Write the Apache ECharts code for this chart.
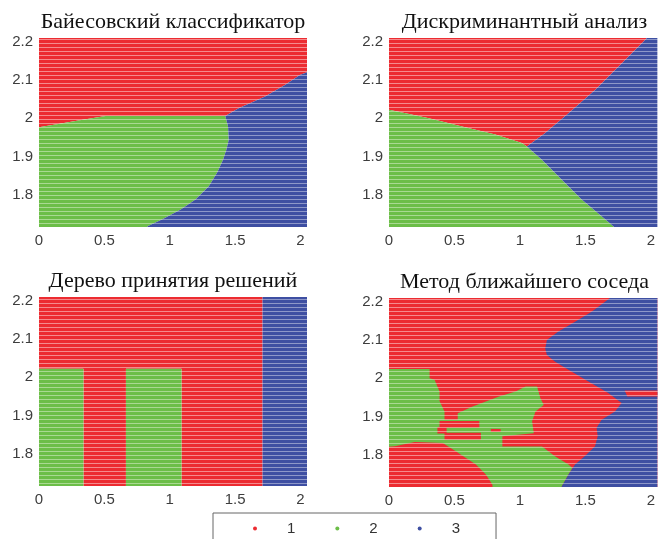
<!DOCTYPE html>
<html>
<head>
<meta charset="utf-8">
<script src="https://cdn.jsdelivr.net/npm/echarts@6/dist/echarts.min.js"></script>
<style>
  html, body { margin: 0; padding: 0; background: #fff; }
  #chart { width: 658px; height: 539px; }
</style>
</head>
<body>
<div id="chart"></div>
<script>
// подписи и оси
var plotTitles = ['Байесовский классификатор', 'Дискриминантный анализ', 'Дерево принятия решений', 'Метод ближайшего соседа'];
var classNames = ['1', '2', '3'];
var xTicks = [0, 0.5, 1, 1.5, 2];
var yTicks = [1.8, 1.9, 2, 2.1, 2.2];
var xRange = [0, 2.05];
var yRange = [1.715, 2.21];

// области классов, вершины [x, y]
var bayesClass1 = [[[-0.1, 2.3], [2.2, 2.3], [2.2, 2.14], [1.995, 2.113], [1.881, 2.087], [1.729, 2.057], [1.527, 2.026], [1.425, 2.006], [0.509, 2.006], [0.30, 1.994], [0.147, 1.985], [0.033, 1.978], [-0.1, 1.970]]];
var bayesClass2 = [[[-0.1, 1.970], [0.033, 1.978], [0.147, 1.985], [0.30, 1.994], [0.509, 2.006], [1.425, 2.006], [1.446, 1.978], [1.451, 1.943], [1.433, 1.917], [1.408, 1.891], [1.362, 1.857], [1.299, 1.822], [1.197, 1.787], [1.084, 1.761], [0.944, 1.735], [0.83, 1.717], [0.80, 1.65], [-0.1, 1.65]]];
var bayesClass3 = [[[1.425, 2.006], [1.527, 2.026], [1.729, 2.057], [1.881, 2.087], [1.995, 2.113], [2.2, 2.14], [2.2, 1.65], [0.80, 1.65], [0.83, 1.717], [0.944, 1.735], [1.084, 1.761], [1.197, 1.787], [1.299, 1.822], [1.362, 1.857], [1.408, 1.891], [1.433, 1.917], [1.451, 1.943], [1.446, 1.978]]];

var ldaClass1 = [[[-0.1, 2.3], [2.06, 2.3], [2.02, 2.23], [1.954, 2.204], [1.777, 2.143], [1.574, 2.074], [1.371, 2.013], [1.193, 1.961], [1.053, 1.926], [1.015, 1.935], [0.812, 1.957], [0.558, 1.978], [0.305, 2.0], [0.127, 2.013], [-0.1, 2.029]]];
var ldaClass2 = [[[-0.1, 2.029], [0.127, 2.013], [0.305, 2.0], [0.558, 1.978], [0.812, 1.957], [1.015, 1.935], [1.053, 1.926], [1.168, 1.891], [1.32, 1.839], [1.472, 1.787], [1.624, 1.743], [1.72, 1.715], [1.76, 1.65], [-0.1, 1.65]]];
var ldaClass3 = [[[1.053, 1.926], [1.193, 1.961], [1.371, 2.013], [1.574, 2.074], [1.777, 2.143], [1.954, 2.204], [2.02, 2.23], [2.06, 2.3], [2.2, 2.3], [2.2, 1.65], [1.76, 1.65], [1.72, 1.715], [1.624, 1.743], [1.472, 1.787], [1.32, 1.839], [1.168, 1.891]]];

var treeClass1 = [[[-0.1, 2.3], [1.71, 2.3], [1.71, 1.65], [1.09, 1.65], [1.09, 2.022], [0.665, 2.022], [0.665, 1.65], [0.34, 1.65], [0.34, 2.022], [-0.1, 2.022]]];
var treeClass2 = [
  [[-0.1, 1.65], [0.34, 1.65], [0.34, 2.022], [-0.1, 2.022]],
  [[0.665, 1.65], [1.09, 1.65], [1.09, 2.022], [0.665, 2.022]]
];
var treeClass3 = [[[1.71, 1.65], [2.2, 1.65], [2.2, 2.3], [1.71, 2.3]]];

var knnClass1 = [[[-0.1, 1.65], [2.2, 1.65], [2.2, 2.3], [-0.1, 2.3]]];
var knnClass2 = [[[-0.1, 2.024], [0.31, 2.024], [0.31, 2.0], [0.348, 1.996], [0.386, 1.965], [0.386, 1.94], [0.424, 1.913], [0.424, 1.891], [0.525, 1.891], [0.525, 1.908], [0.639, 1.926], [0.74, 1.939], [0.841, 1.952], [0.967, 1.965], [1.043, 1.978], [1.131, 1.978], [1.156, 1.948], [1.182, 1.930], [1.119, 1.913], [1.093, 1.887], [1.106, 1.856], [0.866, 1.848], [0.866, 1.821], [1.169, 1.821], [1.27, 1.795], [1.371, 1.774], [1.40, 1.765], [1.371, 1.748], [1.32, 1.717], [1.30, 1.65], [0.80, 1.65], [0.79, 1.721], [0.74, 1.748], [0.664, 1.774], [0.588, 1.791], [0.513, 1.808], [0.411, 1.830], [0.197, 1.833], [0.045, 1.822], [-0.1, 1.817]]];
var knnClass3 = [[[1.70, 2.3], [2.2, 2.3], [2.2, 1.65], [1.30, 1.65], [1.32, 1.717], [1.371, 1.748], [1.421, 1.774], [1.497, 1.796], [1.574, 1.822], [1.594, 1.848], [1.586, 1.87], [1.624, 1.891], [1.726, 1.913], [1.777, 1.935], [1.675, 1.961], [1.523, 1.991], [1.371, 2.022], [1.269, 2.043], [1.206, 2.061], [1.193, 2.078], [1.206, 2.1], [1.294, 2.122], [1.421, 2.148], [1.548, 2.174], [1.65, 2.2], [1.688, 2.21]]];
// красные «языки» поверх зелёной и синей областей
var knnClass1Over = [
  [[0.386, 1.888], [0.69, 1.888], [0.69, 1.870], [0.386, 1.870]],
  [[0.37, 1.872], [0.44, 1.872], [0.44, 1.855], [0.37, 1.855]],
  [[0.424, 1.857], [0.702, 1.857], [0.702, 1.839], [0.424, 1.839]],
  [[0.778, 1.867], [0.853, 1.867], [0.853, 1.859], [0.778, 1.859]],
  [[1.80, 1.968], [2.2, 1.968], [2.2, 1.952], [1.82, 1.952]]
];

var colors = ['#ec2b31', '#6cbe48', '#3e4fa2'];
var lightColors = ['#f58a8d', '#a9d992', '#8d97c9'];

// штриховка как у точек сетки
function stripes(i) {
    var c = document.createElement('canvas');
    c.width = 4;
    c.height = 4;
    var ctx = c.getContext('2d');
    ctx.fillStyle = colors[i];
    ctx.fillRect(0, 0, 4, 3);
    ctx.fillStyle = lightColors[i];
    ctx.fillRect(0, 3, 4, 1);
    return {type: 'pattern', image: c, repeat: 'repeat'};
}
var patterns = [stripes(0), stripes(1), stripes(2)];

var grids = [
    {left: 39, top: 38, width: 268, height: 189},
    {left: 389, top: 38, width: 271, height: 189},
    {left: 39, top: 297, width: 268, height: 189},
    {left: 389, top: 298, width: 271, height: 189}
];

var layers = [
    [0, 0, bayesClass1], [0, 1, bayesClass2], [0, 2, bayesClass3],
    [1, 0, ldaClass1], [1, 1, ldaClass2], [1, 2, ldaClass3],
    [2, 0, treeClass1], [2, 1, treeClass2], [2, 2, treeClass3],
    [3, 0, knnClass1], [3, 1, knnClass2], [3, 2, knnClass3], [3, 0, knnClass1Over]
];

var series = layers.map(function (l) {
    var polys = l[2];
    var cls = l[1];
    return {
        type: 'custom',
        name: classNames[cls],
        xAxisIndex: l[0],
        yAxisIndex: l[0],
        itemStyle: {color: colors[cls]},
        silent: true,
        animation: false,
        data: polys.map(function (p, i) { return i; }),
        renderItem: function (params, api) {
            var cs = params.coordSys;
            return {
                type: 'polygon',
                shape: {points: polys[params.dataIndex].map(function (p) { return api.coord(p); })},
                style: {fill: patterns[cls]},
                clipPath: {type: 'rect', shape: {x: cs.x, y: cs.y, width: cs.width, height: cs.height}}
            };
        }
    };
});

var labelStyle = {color: '#3d3d3d', fontSize: 15, fontFamily: 'Liberation Sans', margin: 6};

var option = {
    animation: false,
    title: plotTitles.map(function (t, i) {
        return {
            text: t,
            left: grids[i].left + grids[i].width / 2,
            top: grids[i].top - 27,
            textAlign: 'center',
            padding: 0,
            textStyle: {fontFamily: 'Liberation Serif', fontSize: 22, fontWeight: 'normal', color: '#111'}
        };
    }),
    legend: {
        left: 213,
        top: 513,
        padding: [8, 36, 8, 40],
        borderColor: '#666',
        borderWidth: 1,
        itemGap: 40,
        itemWidth: 4,
        itemHeight: 4,
        icon: 'circle',
        data: classNames.map(function (n, i) { return {name: n, itemStyle: {color: colors[i]}}; }),
        textStyle: {fontFamily: 'Liberation Sans', fontSize: 15, color: '#333', padding: [0, 0, 0, 25]}
    },
    grid: grids,
    xAxis: grids.map(function (g, i) {
        return {
            type: 'value', gridIndex: i, min: xRange[0], max: xRange[1],
            axisLine: {show: false},
            splitLine: {show: false},
            axisTick: {show: true, inside: true, length: 3, lineStyle: {color: '#888'}, customValues: xTicks},
            axisLabel: Object.assign({customValues: xTicks}, labelStyle)
        };
    }),
    yAxis: grids.map(function (g, i) {
        return {
            type: 'value', gridIndex: i, min: yRange[0], max: yRange[1],
            axisLine: {show: false},
            splitLine: {show: false},
            axisTick: {show: true, inside: true, length: 3, lineStyle: {color: '#888'}, customValues: yTicks},
            axisLabel: Object.assign({customValues: yTicks}, labelStyle)
        };
    }),
    series: series
};

var myChart = echarts.init(document.getElementById('chart'));
myChart.setOption(option);
</script>
</body>
</html>
